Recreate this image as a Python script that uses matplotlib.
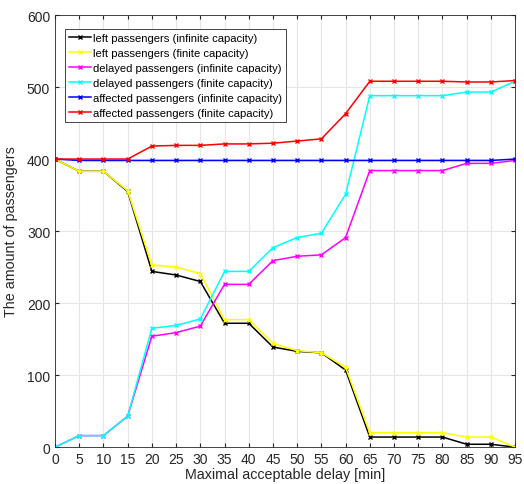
import matplotlib.pyplot as plt

plt.rcParams['font.family'] = ['Liberation Sans', 'DejaVu Sans']

delay = [0, 5, 10, 15, 20, 25, 30, 35, 40, 45, 50, 55, 60, 65, 70, 75, 80, 85, 90, 95]

left_inf = [400, 383, 383, 355, 244, 239, 230, 172, 172, 139, 133, 131, 107, 14, 14, 14, 14, 4, 4, 0]
left_fin = [400, 383, 383, 356, 253, 250, 241, 177, 177, 144, 134, 131, 111, 20, 20, 20, 20, 14, 14, 0]
delayed_inf = [0, 16, 16, 43, 154, 159, 168, 226, 226, 259, 265, 267, 291, 384, 384, 384, 384, 394, 394, 398]
delayed_fin = [0, 16, 16, 43, 165, 169, 178, 244, 244, 277, 291, 297, 351, 488, 488, 488, 488, 493, 493, 508]
affected_inf = [400, 398, 398, 398, 398, 398, 398, 398, 398, 398, 398, 398, 398, 398, 398, 398, 398, 398, 398, 400]
affected_fin = [400, 400, 400, 400, 418, 419, 419, 421, 421, 422, 425, 428, 463, 508, 508, 508, 508, 507, 507, 509]

series = [
    (left_inf, 'k', 'left passengers (infinite capacity)'),
    (left_fin, 'yellow', 'left passengers (finite capacity)'),
    (delayed_inf, 'magenta', 'delayed passengers (infinite capacity)'),
    (delayed_fin, 'cyan', 'delayed passengers (finite capacity)'),
    (affected_inf, 'blue', 'affected passengers (infinite capacity)'),
    (affected_fin, 'red', 'affected passengers (finite capacity)'),
]

fig = plt.figure(figsize=(5.24, 4.85), dpi=100)
ax = fig.add_axes([0.105, 0.076, 0.878, 0.891])
for vals, col, lab in series:
    ax.plot(delay, vals, color=col, marker='x', markersize=3.5, markeredgewidth=1.0,
            linewidth=1.1, label=lab)

ax.set_xlim(0, 95)
ax.set_ylim(0, 600)
ax.set_xticks(delay)
ax.set_yticks(range(0, 601, 100))
ax.grid(True, color='#e6e6e6', linewidth=0.8)
ax.set_axisbelow(True)
ax.tick_params(direction='in', labelsize=10, colors='#262626', length=3,
               top=True, right=True)
for s in ax.spines.values():
    s.set_color('#262626')
    s.set_linewidth(0.6)
ax.set_xlabel('Maximal acceptable delay [min]', fontsize=10.3, color='#262626', labelpad=1)
ax.set_ylabel('The amount of passengers', fontsize=10.3, color='#262626', labelpad=6)
leg = ax.legend(loc='upper left', bbox_to_anchor=(0.015, 0.975), fontsize=8.1, fancybox=False,
                framealpha=1, edgecolor='#262626', handlelength=1.9, handletextpad=0.2,
                borderpad=0.35, labelspacing=0.45, borderaxespad=0.3)
leg.get_frame().set_linewidth(0.6)

fig.savefig('out.png', dpi=100)
